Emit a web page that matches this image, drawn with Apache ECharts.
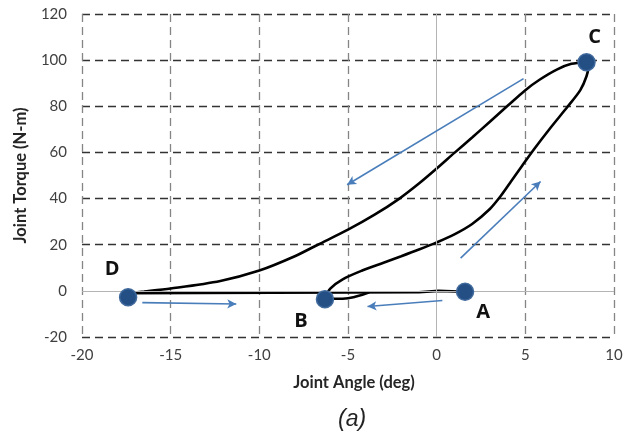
<!DOCTYPE html>
<html>
<head>
<meta charset="utf-8">
<script src="https://cdn.jsdelivr.net/npm/echarts@6/dist/echarts.min.js"></script>
<style>html,body{margin:0;padding:0;background:#fff}#c{width:633px;height:444px}</style>
</head>
<body>
<div id="c"></div>
<script>
// ---- data ----
const lowerBranch = [[-6.3,-3.2],[-6.0,1],[-5.3,5],[-4.2,8.8],[-3,12.2],[-2,15],[-1,17.9],[0,21],[1,24.5],[2,29],[3,35.5],[3.6,41],[4.2,47.5],[4.8,54],[5.5,61.5],[6.4,70.5],[7.4,80],[8.1,87],[8.45,93],[8.55,97],[8.4,99]];
const upperBranch = [[8.4,99],[7.6,98.4],[6.8,96],[5.8,91.5],[5.0,87],[4.0,80.2],[3,73.3],[2,66.5],[1.0,59.8],[0,53],[-1,46.5],[-2.1,40],[-3.5,33],[-5,26.5],[-6.7,20],[-8,15],[-10,8.8],[-12.2,4.3],[-15,1],[-16.5,-0.3],[-17.4,-1]];
const flatLine = [[-17.4,-1],[-1,-0.6],[-0.9,0],[0.1,0],[0.2,-0.4],[1.6,-0.4]];
const bHook = [[-3.8,-0.6],[-4.6,-2.6],[-5.3,-3.4],[-6.3,-3.4]];
const keyNames = ['A','B','C','D'];
const keyPoints = [[1.6,-0.4],[-6.3,-3.6],[8.45,99.1],[-17.4,-2.8]];
const arrows = [
  [[4.9,92],[-5.05,46]],
  [[1.35,14.2],[5.86,47.4]],
  [[0.32,-4.2],[-3.9,-6.8]],
  [[-16.6,-5.1],[-11.3,-5.7]]
];
const xMin = -20, xMax = 10, xStep = 5;
const yMin = -20, yMax = 120, yStep = 20;
const xTitle = 'Joint Angle (deg)';
const yTitle = 'Joint Torque (N-m)';
const caption = '(a)';

// ---- styles ----
const labelOffsets = {A:[18,21], B:[-24,22], C:[8,-25], D:[-16,-28]};
const FONT = 'Lato, "Open Sans", sans-serif';

// split line colours: hide the dashed line at zero (drawn solid instead)
const xCount = (xMax - xMin) / xStep + 1;
const yCount = (yMax - yMin) / yStep + 1;
const xLineColors = [], yLineColors = [];
for (let i = 0; i < xCount; i++) xLineColors.push(xMin + i * xStep === 0 ? 'rgba(0,0,0,0)' : '#858585');
for (let i = 0; i < yCount; i++) yLineColors.push(yMin + i * yStep === 0 ? 'rgba(0,0,0,0)' : '#333333');

const curveStyle = {color:'#000', width:2.6};
const chart = echarts.init(document.getElementById('c'));
chart.setOption({
  animation:false,
  backgroundColor:'#fff',
  grid:{left:82, right:19, top:14, bottom:107},
  xAxis:{
    type:'value', min:xMin, max:xMax, interval:xStep,
    axisLine:{show:false}, axisTick:{show:false},
    axisLabel:{fontFamily:FONT, fontSize:15, color:'#404040', margin:11},
    splitLine:{show:true, lineStyle:{color:xLineColors, type:[8,5], width:1.3}},
    name:xTitle, nameLocation:'middle', nameGap:37,
    nameTextStyle:{fontFamily:FONT, fontSize:16.5, fontWeight:'bold', color:'#262626', padding:[0,0,0,12]}
  },
  yAxis:{
    type:'value', min:yMin, max:yMax, interval:yStep,
    axisLine:{show:false}, axisTick:{show:false},
    axisLabel:{fontFamily:FONT, fontSize:15, color:'#404040', margin:15},
    splitLine:{show:true, lineStyle:{color:yLineColors, type:[8,5], width:1.4}},
    name:yTitle, nameLocation:'middle', nameGap:53,
    nameTextStyle:{fontFamily:FONT, fontSize:16.5, fontWeight:'bold', color:'#262626'}
  },
  graphic:[{type:'text', left:338, top:408, style:{text:caption, font:'italic 23px "Liberation Sans", Arial, sans-serif', fill:'#222'}}],
  series:[
    {type:'line', data:[], silent:true, z:1,
     markLine:{silent:true, symbol:['none','none'], label:{show:false},
       lineStyle:{color:'#b4b4b4', type:'solid', width:1},
       data:[{xAxis:0},{yAxis:0}]}},
    {type:'line', data:lowerBranch, showSymbol:false, smooth:0.3, lineStyle:curveStyle, z:3},
    {type:'line', data:upperBranch, showSymbol:false, smooth:0.3, lineStyle:curveStyle, z:3},
    {type:'line', data:flatLine, showSymbol:false, lineStyle:curveStyle, z:3},
    {type:'line', data:bHook, showSymbol:false, smooth:0.4, lineStyle:curveStyle, z:3},
    {type:'line', data:[], silent:true, z:4,
     markLine:{silent:true, symbol:['none','arrow'], symbolSize:[7,9], label:{show:false},
       lineStyle:{color:'#4a7ebb', type:'solid', width:1.6},
       data:arrows.map(a => [{coord:a[0]},{coord:a[1]}])}},
    {type:'scatter', z:5, symbolSize:17,
     itemStyle:{color:'#234f85', borderColor:'#40699c', borderWidth:1.5, opacity:1},
     label:{show:true, formatter:p => p.name, fontFamily:'"Open Sans", sans-serif', fontSize:20, fontWeight:'bold', color:'#111', position:'inside'},
     data:keyPoints.map((p,i) => ({value:p, name:keyNames[i], label:{offset:labelOffsets[keyNames[i]]}}))}
  ]
});
</script>
</body>
</html>
